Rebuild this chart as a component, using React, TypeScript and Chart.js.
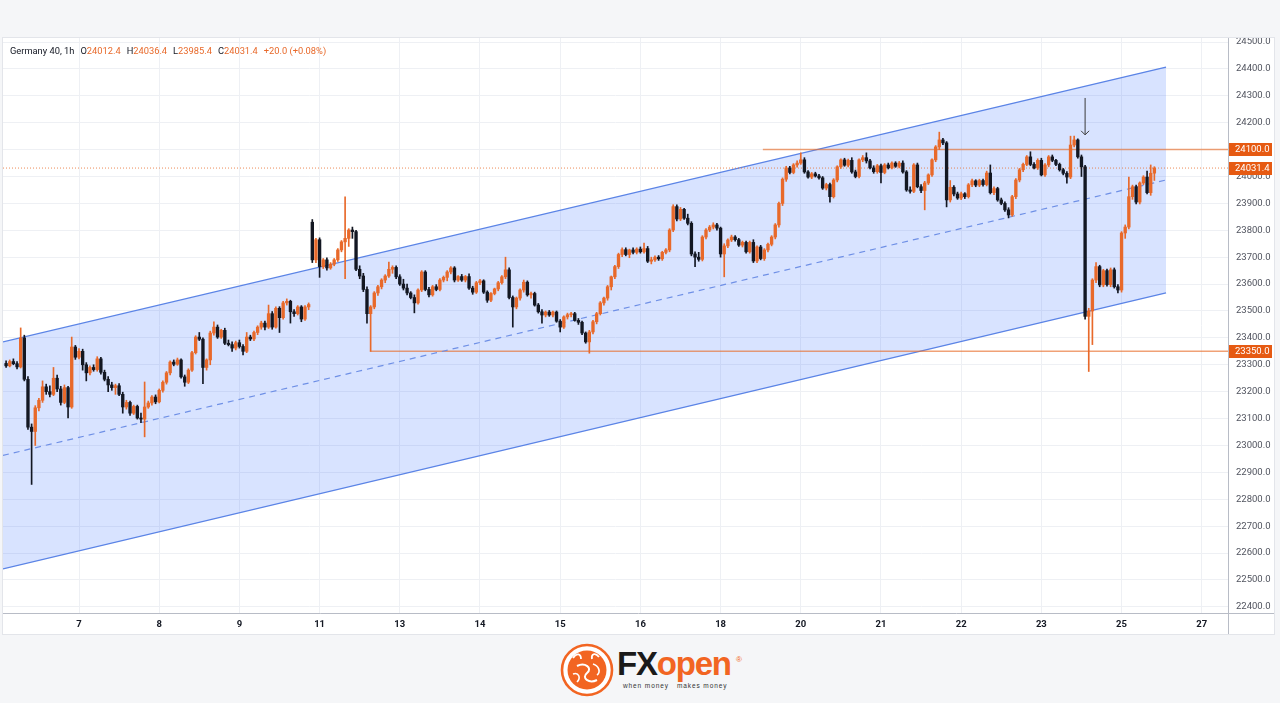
import React, { useEffect, useRef } from "react";
import { Chart, registerables } from "chart.js";
Chart.register(...registerables);

// [open, high, low, close] hourly candles, Germany 40
const CANDLES: [number, number, number, number][] = [
  [23305,23315,23290,23296],[23296,23318,23292,23312],[23312,23322,23300,23304],[23304,23312,23285,23292],
  [23292,23437,23288,23400],[23400,23410,23240,23246],[23246,23256,23060,23068],[23068,23080,22855,23052],
  [23052,23148,23000,23140],[23140,23175,23128,23168],[23168,23240,23160,23218],[23218,23228,23190,23200],
  [23200,23222,23180,23190],[23190,23290,23185,23250],[23250,23262,23200,23210],[23210,23220,23150,23160],
  [23160,23225,23155,23215],[23215,23220,23102,23143],[23143,23403,23138,23366],[23366,23372,23320,23328],
  [23328,23360,23322,23350],[23350,23358,23280,23300],[23300,23308,23240,23270],[23270,23296,23262,23290],
  [23290,23300,23276,23282],[23282,23330,23276,23322],[23322,23328,23265,23272],[23272,23280,23240,23246],
  [23246,23256,23200,23225],[23225,23235,23205,23215],[23215,23228,23190,23222],[23222,23230,23185,23190],
  [23190,23198,23120,23143],[23143,23168,23135,23160],[23160,23165,23112,23120],[23120,23150,23115,23145],
  [23145,23150,23098,23102],[23102,23120,23085,23098],[23098,23236,23032,23143],[23143,23165,23138,23158],
  [23158,23185,23150,23180],[23180,23188,23155,23162],[23162,23210,23158,23205],[23205,23240,23198,23235],
  [23235,23275,23228,23270],[23270,23315,23262,23310],[23310,23318,23296,23302],[23302,23325,23298,23318],
  [23318,23322,23250,23255],[23255,23262,23220,23235],[23235,23285,23230,23280],[23280,23350,23275,23345],
  [23345,23408,23340,23403],[23403,23420,23390,23395],[23395,23400,23230,23290],[23290,23322,23280,23318],
  [23318,23425,23300,23418],[23418,23460,23410,23440],[23440,23448,23398,23403],[23403,23432,23398,23428],
  [23428,23436,23375,23380],[23380,23392,23370,23375],[23375,23385,23350,23362],[23362,23388,23355,23382],
  [23382,23392,23362,23368],[23368,23375,23337,23350],[23350,23420,23345,23403],[23403,23410,23390,23396],
  [23396,23425,23390,23420],[23420,23445,23412,23440],[23440,23462,23432,23455],[23455,23462,23430,23440],
  [23440,23522,23435,23490],[23490,23498,23432,23440],[23440,23515,23436,23510],[23510,23516,23420,23475],
  [23475,23536,23470,23530],[23530,23545,23522,23536],[23536,23540,23455,23497],[23497,23505,23480,23490],
  [23490,23520,23485,23515],[23515,23520,23460,23470],[23470,23520,23465,23515],[23515,23530,23505,23524],
  [23830,23840,23680,23690],[23690,23770,23680,23765],[23765,23772,23625,23665],[23665,23695,23658,23690],
  [23690,23698,23652,23660],[23660,23680,23655,23674],[23674,23695,23668,23690],[23690,23732,23684,23727],
  [23727,23762,23720,23757],[23757,23924,23620,23770],[23770,23806,23740,23801],[23801,23812,23770,23795],
  [23795,23800,23650,23655],[23655,23668,23620,23630],[23630,23640,23572,23580],[23580,23590,23455,23490],
  [23490,23520,23350,23515],[23515,23572,23508,23567],[23567,23595,23558,23590],[23590,23620,23582,23615],
  [23615,23635,23605,23630],[23630,23682,23625,23655],[23655,23668,23640,23662],[23662,23668,23620,23627],
  [23627,23635,23595,23600],[23600,23618,23578,23585],[23585,23600,23560,23567],[23567,23572,23545,23550],
  [23550,23560,23493,23530],[23530,23582,23525,23578],[23578,23650,23572,23645],[23645,23650,23575,23580],
  [23580,23588,23552,23560],[23560,23595,23555,23590],[23590,23598,23575,23580],[23580,23620,23575,23615],
  [23615,23630,23608,23625],[23625,23650,23612,23645],[23645,23665,23638,23660],[23660,23665,23608,23615],
  [23615,23632,23610,23628],[23628,23636,23610,23615],[23615,23632,23608,23628],[23628,23638,23580,23585],
  [23585,23592,23562,23570],[23570,23610,23565,23605],[23605,23618,23598,23612],[23612,23616,23565,23570],
  [23570,23575,23532,23540],[23540,23568,23535,23565],[23565,23585,23560,23582],[23582,23610,23575,23605],
  [23605,23632,23600,23627],[23627,23700,23620,23653],[23653,23660,23545,23550],[23550,23556,23440,23515],
  [23515,23552,23508,23548],[23548,23582,23540,23578],[23578,23615,23570,23607],[23607,23612,23555,23560],
  [23560,23570,23548,23565],[23565,23570,23518,23522],[23522,23528,23492,23497],[23497,23505,23455,23485],
  [23485,23500,23478,23496],[23496,23502,23480,23485],[23485,23500,23478,23496],[23496,23500,23458,23462],
  [23462,23468,23422,23440],[23440,23482,23435,23478],[23478,23492,23470,23486],[23486,23495,23478,23490],
  [23490,23495,23462,23465],[23465,23472,23450,23458],[23458,23462,23412,23418],[23418,23422,23380,23385],
  [23385,23428,23343,23422],[23422,23465,23415,23460],[23460,23495,23452,23490],[23490,23535,23485,23530],
  [23530,23552,23522,23548],[23548,23595,23540,23590],[23590,23630,23578,23627],[23627,23670,23620,23665],
  [23665,23715,23658,23710],[23710,23735,23702,23728],[23728,23735,23705,23710],[23710,23730,23698,23727],
  [23727,23735,23712,23718],[23718,23735,23712,23730],[23730,23738,23715,23720],[23720,23752,23715,23732],
  [23732,23740,23680,23685],[23685,23700,23675,23690],[23690,23705,23684,23700],[23700,23706,23688,23694],
  [23694,23722,23688,23718],[23718,23732,23712,23727],[23727,23806,23720,23801],[23801,23895,23795,23888],
  [23888,23895,23835,23842],[23842,23885,23836,23878],[23878,23882,23840,23845],[23845,23860,23820,23826],
  [23826,23832,23705,23712],[23712,23720,23665,23700],[23700,23718,23685,23692],[23692,23780,23686,23775],
  [23775,23806,23768,23801],[23801,23818,23795,23812],[23812,23828,23805,23820],[23820,23826,23800,23808],
  [23808,23812,23700,23712],[23712,23750,23627,23742],[23742,23768,23735,23764],[23764,23782,23758,23775],
  [23775,23780,23760,23765],[23765,23770,23740,23745],[23745,23760,23738,23755],[23755,23760,23715,23720],
  [23720,23760,23715,23755],[23755,23765,23680,23686],[23686,23742,23680,23738],[23738,23744,23690,23695],
  [23695,23732,23688,23727],[23727,23752,23720,23748],[23748,23780,23742,23775],[23775,23825,23768,23820],
  [23820,23905,23812,23900],[23900,23995,23892,23990],[23990,24038,23982,24032],[24032,24038,24010,24015],
  [24015,24048,24010,24043],[24043,24058,24035,24050],[24050,24088,24045,24062],[24062,24070,24012,24017],
  [24017,24022,23994,23998],[23998,24015,23992,24010],[24010,24016,23998,24002],[24002,24008,23990,23995],
  [23995,24000,23952,23957],[23957,23975,23950,23970],[23970,23976,23905,23925],[23925,23992,23920,23987],
  [23987,24040,23980,24036],[24036,24066,24030,24062],[24062,24068,24038,24042],[24042,24065,24036,24060],
  [24060,24070,24012,24017],[24017,24024,23995,24000],[24000,24066,23995,24062],[24062,24078,24055,24070],
  [24070,24088,24050,24058],[24058,24064,24028,24032],[24032,24040,24012,24018],[24018,24045,24012,24040],
  [24040,24046,23976,24015],[24015,24048,24010,24043],[24043,24050,24028,24032],[24032,24055,24028,24050],
  [24050,24055,24034,24038],[24038,24056,24032,24050],[24050,24058,24012,24017],[24017,24022,23945,23950],
  [23950,23962,23938,23945],[23945,24048,23940,24043],[24043,24050,23958,23962],[23962,23970,23940,23948],
  [23948,23982,23876,23976],[23976,24010,23970,24006],[24006,24066,24000,24062],[24062,24115,24055,24110],
  [24110,24165,24100,24136],[24136,24142,24118,24125],[24125,24130,23887,23913],[23913,23985,23905,23960],
  [23960,23966,23928,23935],[23935,23942,23915,23920],[23920,23942,23914,23936],[23936,23940,23918,23925],
  [23925,23974,23920,23969],[23969,23990,23962,23984],[23984,23988,23962,23968],[23968,23990,23962,23985],
  [23985,23990,23964,23970],[23970,24020,23965,24013],[24013,24043,23935,23940],[23940,23962,23932,23955],
  [23955,23960,23908,23913],[23913,23920,23895,23900],[23900,23906,23870,23876],[23876,23884,23846,23857],
  [23857,23930,23852,23925],[23925,23992,23918,23987],[23987,24030,23980,24025],[24025,24050,24018,24045],
  [24045,24078,24040,24073],[24073,24092,24040,24045],[24045,24052,24028,24032],[24032,24066,24026,24060],
  [24060,24068,24002,24006],[24006,24048,24000,24043],[24043,24078,24036,24073],[24073,24080,24055,24060],
  [24060,24064,24040,24045],[24045,24050,24020,24025],[24025,24030,24006,24012],[24012,24018,23975,23998],
  [23998,24150,23992,24117],[24117,24150,24110,24136],[24136,24140,24068,24073],[24073,24080,24000,24036],
  [24036,24042,23470,23480],[23480,23510,23275,23500],[23500,23620,23375,23615],[23615,23680,23605,23665],
  [23665,23670,23590,23597],[23597,23655,23590,23650],[23650,23656,23592,23598],[23598,23660,23590,23653],
  [23653,23660,23585,23590],[23590,23598,23567,23578],[23578,23795,23570,23790],[23790,23820,23770,23812],
  [23812,23998,23805,23925],[23925,23968,23915,23962],[23962,23968,23898,23905],[23905,23980,23898,23976],
  [23976,24003,23970,23998],[23998,24020,23935,23940],[23940,24043,23930,24012],[24012.4,24036.4,23985.4,24031.4],
];

const X_TICK_POS = [20, 42, 64, 86, 108, 130, 152, 174, 196, 218, 240, 262, 284, 306, 328];
const X_TICK_LABELS = ["7", "8", "9", "11", "13", "14", "15", "16", "18", "20", "21", "22", "23", "25", "27"];
const X_MIN = -0.85;
const X_MAX = 335.2;

const Y_MIN = 22377;
const Y_MAX = 24515;
const Y_TICKS = [22400, 22500, 22600, 22700, 22800, 22900, 23000, 23100, 23200, 23300, 23400, 23500,
  23600, 23700, 23800, 23900, 24000, 24100, 24200, 24300, 24400, 24500];

const CHANNEL_X = [-0.85, 318.2];
const CHANNEL_UPPER = [23385, 24407];
const CHANNEL_LOWER = [22541, 23567];
const CHANNEL_MID = [22963, 23987];

const RESISTANCE = 24100;
const RESISTANCE_FROM = 207.6;
const SUPPORT = 23350;
const SUPPORT_FROM = 99.8;
const LAST_PRICE = 24031.4;
const PRICE_TAGS = [24100, 24031.4, 23350];
const ARROW = { x: 296, from: 24292, to: 24155 };

const UP = "#e8692a";
const DOWN = "#131722";
const LEVEL = "rgba(232,110,45,0.65)";
const TAG = "#e65a12";

const overlay = {
  id: "overlay",
  afterDatasetsDraw(chart: any) {
    const { ctx, scales } = chart;
    const x = scales.x.getPixelForValue(ARROW.x);
    const y1 = scales.y.getPixelForValue(ARROW.from);
    const y2 = scales.y.getPixelForValue(ARROW.to);
    ctx.save();
    ctx.strokeStyle = "#3a3a3a";
    ctx.lineWidth = 1;
    ctx.beginPath();
    ctx.moveTo(x, y1);
    ctx.lineTo(x, y2);
    ctx.moveTo(x - 4, y2 - 4);
    ctx.lineTo(x, y2);
    ctx.lineTo(x + 4, y2 - 4);
    ctx.stroke();
    ctx.restore();
  },
  afterDraw(chart: any) {
    const { ctx, scales, chartArea, width, height } = chart;
    ctx.save();
    ctx.strokeStyle = "#b8bcc6";
    ctx.lineWidth = 1;
    ctx.beginPath();
    ctx.moveTo(chartArea.right + 0.5, 0);
    ctx.lineTo(chartArea.right + 0.5, height);
    ctx.moveTo(0, chartArea.bottom + 0.5);
    ctx.lineTo(width, chartArea.bottom + 0.5);
    ctx.stroke();
    for (const v of PRICE_TAGS) {
      const y = scales.y.getPixelForValue(v);
      ctx.fillStyle = TAG;
      ctx.fillRect(chartArea.right + 1, Math.round(y - 6.5), 43, 13);
      ctx.fillStyle = "#ffffff";
      ctx.font = "9.5px Roboto, sans-serif";
      ctx.textBaseline = "middle";
      ctx.textAlign = "left";
      ctx.fillText(v.toFixed(1), chartArea.right + 7, y + 0.5);
    }
    ctx.restore();
  },
};

export default function App() {
  const ref = useRef<HTMLCanvasElement>(null);
  useEffect(() => {
    if (!ref.current) return;
    const colorOf = (c: number[]) => (c[3] >= c[0] ? UP : DOWN);
    const chart = new Chart(ref.current, {
      type: "bar",
      data: {
        datasets: [
          {
            type: "line",
            data: CHANNEL_X.map((x, i) => ({ x, y: CHANNEL_UPPER[i] })),
            borderColor: "#5b84e6",
            borderWidth: 1.3,
            pointRadius: 0,
            fill: false,
            order: 3,
          } as any,
          {
            type: "line",
            data: CHANNEL_X.map((x, i) => ({ x, y: CHANNEL_LOWER[i] })),
            borderColor: "#5b84e6",
            borderWidth: 1.3,
            pointRadius: 0,
            fill: "-1",
            backgroundColor: "rgba(41,98,255,0.18)",
            order: 3,
          } as any,
          {
            type: "line",
            data: CHANNEL_X.map((x, i) => ({ x, y: CHANNEL_MID[i] })),
            borderColor: "#6f90e6",
            borderWidth: 1.2,
            borderDash: [6, 5],
            pointRadius: 0,
            fill: false,
            order: 2,
          } as any,
          {
            type: "line",
            data: [{ x: X_MIN, y: LAST_PRICE }, { x: X_MAX, y: LAST_PRICE }],
            borderColor: "rgba(232,110,45,0.8)",
            borderWidth: 1,
            borderDash: [1, 2],
            pointRadius: 0,
            fill: false,
            order: 2,
          } as any,
          {
            type: "line",
            data: [{ x: RESISTANCE_FROM, y: RESISTANCE }, { x: X_MAX, y: RESISTANCE }],
            borderColor: LEVEL,
            borderWidth: 1.5,
            pointRadius: 0,
            fill: false,
            order: 2,
          } as any,
          {
            type: "line",
            data: [{ x: SUPPORT_FROM, y: SUPPORT }, { x: X_MAX, y: SUPPORT }],
            borderColor: LEVEL,
            borderWidth: 1.5,
            pointRadius: 0,
            fill: false,
            order: 2,
          } as any,
          {
            type: "bar",
            data: CANDLES.map((c, i) => ({ x: i, y: [c[2], c[1]] })),
            backgroundColor: CANDLES.map(colorOf),
            barThickness: 1,
            grouped: false,
            minBarLength: 1,
            order: 1,
          } as any,
          {
            type: "bar",
            data: CANDLES.map((c, i) => ({ x: i, y: [c[0], c[3]] })),
            backgroundColor: CANDLES.map(colorOf),
            barThickness: 2.7,
            grouped: false,
            minBarLength: 1,
            order: 0,
          } as any,
        ],
      },
      options: {
        responsive: false,
        animation: false,
        events: [],
        layout: { padding: 0 },
        plugins: { legend: { display: false }, tooltip: { enabled: false } },
        scales: {
          x: {
            type: "linear",
            min: X_MIN,
            max: X_MAX,
            offset: false,
            afterBuildTicks: (s: any) => {
              s.ticks = X_TICK_POS.map((v) => ({ value: v }));
            },
            afterFit: (s: any) => {
              s.height = 21;
              s.paddingLeft = 0;
              s.paddingRight = 0;
            },
            grid: { color: "#eef0f4", drawTicks: false, offset: false },
            border: { display: false },
            ticks: {
              autoSkip: false,
              maxRotation: 0,
              padding: 6,
              color: "#131722",
              font: { family: "Roboto, sans-serif", size: 9.5, weight: "bold" },
              callback: (_v: any, i: number) => X_TICK_LABELS[i],
            },
          },
          y: {
            type: "linear",
            position: "right",
            min: Y_MIN,
            max: Y_MAX,
            afterBuildTicks: (s: any) => {
              s.ticks = Y_TICKS.map((v) => ({ value: v }));
            },
            afterFit: (s: any) => {
              s.width = 46;
              s.paddingTop = 0;
              s.paddingBottom = 0;
            },
            grid: { color: "#eef0f4", drawTicks: false },
            border: { display: false },
            ticks: {
              autoSkip: false,
              padding: 8,
              color: "#50535e",
              font: { family: "Roboto, sans-serif", size: 9.5 },
              callback: (v: any) => Number(v).toFixed(1),
            },
          },
        },
      } as any,
      plugins: [overlay],
    });
    return () => chart.destroy();
  }, []);

  const orange = { color: UP };
  const dark = { color: "#131722" };
  return (
    <div style={{ position: "fixed", left: 0, top: 0, width: 1280, height: 703, background: "#f5f6f8", overflow: "hidden" }}>
      <div
        style={{
          position: "absolute", left: 2, top: 37, width: 1273, height: 598, background: "#ffffff",
          border: "1px solid #e3e5ea", boxSizing: "border-box",
        }}
      >
        <canvas ref={ref} width={1271} height={596} style={{ position: "absolute", left: 0, top: 0, width: 1271, height: 596 }} />
        <div
          style={{
            position: "absolute", left: 7, top: 7, fontFamily: "Roboto, sans-serif", fontSize: 9.3,
            lineHeight: "12px", whiteSpace: "pre", ...dark,
          }}
        >
          <span>Germany 40, 1h</span>
          <span style={{ marginLeft: 6 }}>O</span><span style={orange}>24012.4</span>
          <span style={{ marginLeft: 6 }}>H</span><span style={orange}>24036.4</span>
          <span style={{ marginLeft: 6 }}>L</span><span style={orange}>23985.4</span>
          <span style={{ marginLeft: 6 }}>C</span><span style={orange}>24031.4</span>
          <span style={{ marginLeft: 6, ...orange }}>+20.0 (+0.08%)</span>
        </div>
      </div>
      <svg width={56} height={56} viewBox="0 0 56 56" style={{ position: "absolute", left: 559, top: 642 }}>
        <circle cx={28} cy={28} r={25} fill="#ffffff" stroke="#f26522" strokeWidth={2.6} />
        <circle cx={28} cy={28} r={19.5} fill="#f26522" />
        <path d="M14 16 C18 10 22 12 22 17" stroke="#ffffff" strokeWidth={1.8} fill="none" />
        <path d="M40 15 C36 10 32 12 33 17" stroke="#ffffff" strokeWidth={1.8} fill="none" />
        <path d="M18 24 C26 20 34 26 28 31 C22 36 30 42 38 38" stroke="#ffffff" strokeWidth={2} fill="none" />
        <path d="M14 32 C20 30 22 36 18 40" stroke="#ffffff" strokeWidth={1.6} fill="none" />
        <path d="M34 22 C40 24 42 30 38 33" stroke="#ffffff" strokeWidth={1.6} fill="none" />
      </svg>
      <div
        style={{
          position: "absolute", left: 617, top: 646, fontFamily: "'Liberation Sans', Arial, sans-serif",
          fontWeight: 700, fontSize: 33, lineHeight: "36px", letterSpacing: -1.2, whiteSpace: "pre",
        }}
      >
        <span style={{ color: "#1a1a1a" }}>FX</span>
        <span style={{ color: "#f26522" }}>open</span>
      </div>
      <div style={{ position: "absolute", left: 736, top: 655, fontSize: 8, color: "#f26522", fontFamily: "Arial, sans-serif" }}>®</div>
      <div
        style={{
          position: "absolute", left: 623, top: 682, fontFamily: "'Liberation Sans', Arial, sans-serif",
          fontSize: 6.5, letterSpacing: 0.9, color: "#333333", whiteSpace: "pre",
        }}
      >
        when money   makes money
      </div>
    </div>
  );
}
